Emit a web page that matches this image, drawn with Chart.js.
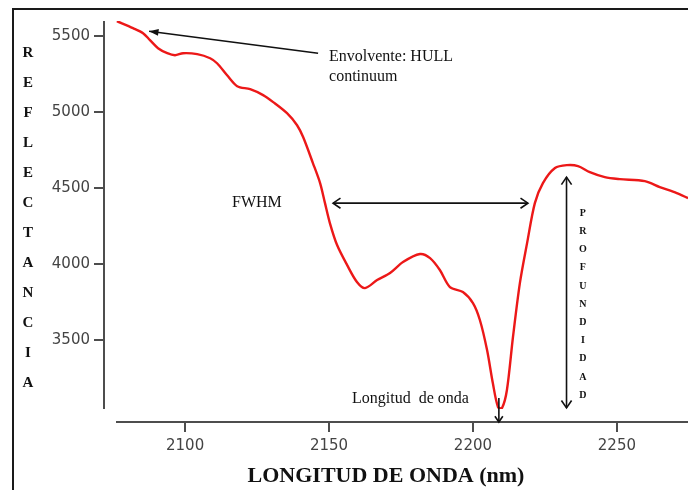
<!DOCTYPE html>
<html>
<head>
<meta charset="utf-8">
<script src="https://cdn.jsdelivr.net/npm/chart.js@4"></script>
<style>
  body { margin: 0; background: #fff; }
  canvas { display: block; }
</style>
</head>
<body>
<canvas id="spectrum" width="688" height="490"></canvas>
<script>
// Spectrum data (wavelength in nm, reflectance)
const waveNm = [2076.3, 2081.9, 2085.4, 2087.8, 2090.6, 2093.8, 2096.5, 2099.3, 2104.2, 2108.7,
  2111.1, 2114.6, 2118.1, 2122.6, 2127.1, 2130.6, 2135.4, 2138.9, 2141.0, 2144.4,
  2146.9, 2148.6, 2150.3, 2152.8, 2156.3, 2159.7, 2162.5, 2166.7, 2171.2, 2175.7,
  2181.6, 2185.1, 2188.5, 2192.0, 2196.5, 2200.0, 2202.4, 2204.9, 2206.9, 2208.7,
  2210.1, 2211.8, 2213.9, 2216.3, 2218.8, 2221.5, 2224.3, 2228.5, 2232.6, 2236.5,
  2240.6, 2245.8, 2251.0, 2259.7, 2264.9, 2270.8, 2274.7];
const reflect = [5599, 5553, 5520, 5474, 5421, 5388, 5375, 5388, 5382, 5355,
  5322, 5243, 5171, 5151, 5112, 5066, 4993, 4914, 4836, 4665,
  4533, 4401, 4270, 4125, 3993, 3882, 3842, 3895, 3941, 4013,
  4066, 4039, 3961, 3849, 3816, 3743, 3632, 3434, 3217, 3059,
  3053, 3171, 3520, 3875, 4138, 4401, 4533, 4632, 4651, 4645,
  4605, 4572, 4559, 4546, 4507, 4467, 4434];

const xTicks = [2100, 2150, 2200, 2250];
const yTicks = [3500, 4000, 4500, 5000, 5500];

const xTitle = 'LONGITUD DE ONDA (nm)';
const yTitle = 'REFLECTANCIA';
const depthLabel = 'PROFUNDIDAD';

// annotation anchors, in data units
const hullTip = [2087.5, 5533];
const hullTail = [2146.2, 5388];
const hullText = ['Envolvente: HULL', 'continuum'];
const hullTextAt = [2150, 5362];
const fwhmSpan = [2151.4, 2219.1];
const fwhmLevel = 4401;
const fwhmTextAt = [2116.3, 4401];
const depthX = 2232.5;
const depthSpan = [4572, 3053];
const depthTextX = 2238.2;
const bandX = 2209;
const bandTextAt = [2158, 3112];

const serif = '"Liberation Serif", "Times New Roman", serif';

function chevron(ctx, x, y, ang, len) {
  ctx.beginPath();
  ctx.moveTo(x - len * Math.cos(ang - 0.6), y - len * Math.sin(ang - 0.6));
  ctx.lineTo(x, y);
  ctx.lineTo(x - len * Math.cos(ang + 0.6), y - len * Math.sin(ang + 0.6));
  ctx.stroke();
}

function line(ctx, x1, y1, x2, y2) {
  ctx.beginPath();
  ctx.moveTo(x1, y1);
  ctx.lineTo(x2, y2);
  ctx.stroke();
}

// frame, detached axes and titles
const axesPlugin = {
  id: 'detachedAxes',
  beforeDatasetsDraw(chart) {
    const { ctx, chartArea, scales: { x, y } } = chart;
    ctx.save();
    ctx.strokeStyle = '#1a1a1a';
    ctx.lineWidth = 2;
    ctx.beginPath();
    ctx.moveTo(13, 500);
    ctx.lineTo(13, 9);
    ctx.lineTo(700, 9);
    ctx.stroke();

    ctx.strokeStyle = '#4d4d4d';
    ctx.lineWidth = 2;
    const yAxisX = chartArea.left - 12;
    line(ctx, yAxisX, chartArea.top, yAxisX, chartArea.bottom);
    yTicks.forEach(v => {
      const py = Math.round(y.getPixelForValue(v));
      line(ctx, yAxisX - 10, py, yAxisX, py);
    });
    const xAxisY = chartArea.bottom + 13;
    line(ctx, chartArea.left, xAxisY, chartArea.right, xAxisY);
    xTicks.forEach(v => {
      const px = Math.round(x.getPixelForValue(v));
      line(ctx, px, xAxisY, px, xAxisY + 10);
    });

    ctx.fillStyle = '#111';
    ctx.textAlign = 'center';
    ctx.textBaseline = 'middle';
    ctx.font = 'bold 22px ' + serif;
    ctx.fillText(xTitle, 386, 476);
    ctx.font = 'bold 15px ' + serif;
    yTitle.split('').forEach((ch, i) => ctx.fillText(ch, 28, 53 + i * 30));
    ctx.restore();
  },
  afterDraw(chart) {
    const { ctx, scales: { x, y } } = chart;
    const X = v => x.getPixelForValue(v);
    const Y = v => y.getPixelForValue(v);
    ctx.save();
    ctx.strokeStyle = '#111';
    ctx.fillStyle = '#111';
    ctx.lineWidth = 1.6;

    // hull arrow with filled head
    const tx = X(hullTip[0]), ty = Y(hullTip[1]);
    const sx = X(hullTail[0]), sy = Y(hullTail[1]);
    line(ctx, sx, sy, tx, ty);
    const a = Math.atan2(ty - sy, tx - sx);
    ctx.beginPath();
    ctx.moveTo(tx, ty);
    ctx.lineTo(tx - 10 * Math.cos(a - 0.35), ty - 10 * Math.sin(a - 0.35));
    ctx.lineTo(tx - 10 * Math.cos(a + 0.35), ty - 10 * Math.sin(a + 0.35));
    ctx.closePath();
    ctx.fill();

    // FWHM double arrow
    const fy = Y(fwhmLevel);
    line(ctx, X(fwhmSpan[0]), fy, X(fwhmSpan[1]), fy);
    chevron(ctx, X(fwhmSpan[0]), fy, Math.PI, 9);
    chevron(ctx, X(fwhmSpan[1]), fy, 0, 9);

    // depth double arrow
    const dx = X(depthX);
    line(ctx, dx, Y(depthSpan[0]), dx, Y(depthSpan[1]));
    chevron(ctx, dx, Y(depthSpan[0]), -Math.PI / 2, 9);
    chevron(ctx, dx, Y(depthSpan[1]), Math.PI / 2, 9);

    // band centre arrow down to the axis
    const bx = X(bandX);
    const axisY = chart.chartArea.bottom + 13;
    line(ctx, bx, Y(bandTextAt[1]) - 1, bx, axisY);
    chevron(ctx, bx, axisY, Math.PI / 2, 7);

    ctx.textBaseline = 'middle';
    ctx.textAlign = 'left';
    ctx.font = '16px ' + serif;
    ctx.fillText(hullText[0], X(hullTextAt[0]), Y(hullTextAt[1]));
    ctx.fillText(hullText[1], X(hullTextAt[0]), Y(hullTextAt[1]) + 20);
    ctx.fillText('FWHM', X(fwhmTextAt[0]), Y(fwhmTextAt[1]));
    ctx.fillText('Longitud  de onda', X(bandTextAt[0]), Y(bandTextAt[1]));

    ctx.textAlign = 'center';
    ctx.font = 'bold 10px ' + serif;
    const top = Y(depthSpan[0]) + 36;
    depthLabel.split('').forEach((ch, i) => ctx.fillText(ch, X(depthTextX), top + i * 18.2));
    ctx.restore();
  }
};

const points = waveNm.map((w, i) => ({ x: w, y: reflect[i] }));

new Chart(document.getElementById('spectrum'), {
  type: 'line',
  data: {
    datasets: [{
      data: points,
      borderColor: 'rgb(236, 24, 24)',
      borderWidth: 2.4,
      pointRadius: 0,
      tension: 0.3,
      fill: false
    }]
  },
  options: {
    responsive: false,
    animation: false,
    layout: { padding: { top: 21, left: 0, right: 0, bottom: 0 } },
    plugins: { legend: { display: false }, tooltip: { enabled: false } },
    scales: {
      x: {
        type: 'linear',
        min: 2076,
        max: 2274.7,
        grid: { display: false, drawTicks: false },
        border: { display: false },
        afterBuildTicks: s => { s.ticks = xTicks.map(v => ({ value: v })); },
        afterFit: s => {
          s.height = 490 - 409;
          s.paddingLeft = 0;
          s.paddingRight = 0;
        },
        ticks: {
          padding: 28,
          maxRotation: 0,
          color: '#444',
          callback: v => String(v),
          font: { family: '"DejaVu Sans", sans-serif', size: 15 }
        }
      },
      y: {
        min: 3046,
        max: 5600,
        grid: { display: false, drawTicks: false },
        border: { display: false },
        afterBuildTicks: s => { s.ticks = yTicks.map(v => ({ value: v })); },
        afterFit: s => {
          s.width = 116;
          s.paddingTop = 0;
          s.paddingBottom = 0;
        },
        ticks: {
          padding: 26,
          color: '#444',
          callback: v => String(v),
          font: { family: '"DejaVu Sans", sans-serif', size: 15 }
        }
      }
    }
  },
  plugins: [axesPlugin]
});
</script>
</body>
</html>
